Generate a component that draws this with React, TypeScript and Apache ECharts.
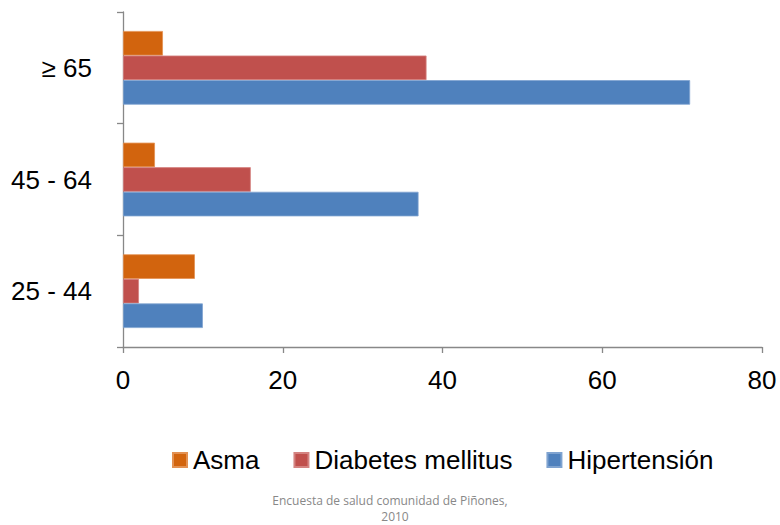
import React, { useEffect, useRef } from "react";
import * as echarts from "echarts";

const categories = ["25 - 44", "45 - 64", "≥ 65"];
const asma = [9, 4, 5];
const diabetes = [2, 16, 38];
const hipertension = [10, 37, 71];
const xTicks = [0, 20, 40, 60, 80];

export default function App() {
  const ref = useRef<HTMLDivElement>(null);
  useEffect(() => {
    const chart = echarts.init(ref.current!, null, { renderer: "svg" });
    const font = "'Liberation Sans', Arial, sans-serif";
    chart.setOption({
      animation: false,
      grid: { left: 123, right: 18, top: 12, bottom: 178, containLabel: false },
      xAxis: {
        type: "value",
        min: xTicks[0],
        max: xTicks[xTicks.length - 1],
        interval: 20,
        splitLine: { show: false },
        axisLine: { show: true, lineStyle: { color: "#888888", width: 1.3 } },
        axisTick: { show: true, length: 6, lineStyle: { color: "#888888", width: 1.3 } },
        axisLabel: { color: "#000", fontSize: 26, fontFamily: font, margin: 20 },
      },
      yAxis: {
        type: "category",
        data: categories,
        axisLine: { show: true, lineStyle: { color: "#888888", width: 1.3 } },
        axisTick: { show: true, length: 6, alignWithLabel: false, lineStyle: { color: "#888888", width: 1.3 } },
        axisLabel: { color: "#000", fontSize: 26, fontFamily: font, margin: 31 },
      },
      legend: {
        data: ["Asma", "Diabetes mellitus", "Hipertensión"],
        left: 167,
        top: 442,
        itemWidth: 14,
        itemHeight: 14,
        itemGap: 34,
        icon: "rect",
        textStyle: { color: "#000", fontSize: 26, fontFamily: font, padding: [0, 0, 0, 1] },
      },
      graphic: [
        {
          type: "text",
          x: 390,
          y: 500,
          style: {
            text: "Encuesta de salud comunidad de Piñones,",
            fill: "#888888",
            font: "12px 'Open Sans', sans-serif",
            align: "center",
            verticalAlign: "middle",
          },
        },
        {
          type: "text",
          x: 395,
          y: 516,
          style: {
            text: "2010",
            fill: "#888888",
            font: "12px 'Open Sans', sans-serif",
            align: "center",
            verticalAlign: "middle",
          },
        },
      ],
      series: [
        {
          name: "Asma",
          type: "bar",
          data: asma,
          barGap: "0%",
          barCategoryGap: "34%",
          itemStyle: { color: "#D2640E", borderColor: "#E39152", borderWidth: 0.8 },
        },
        {
          name: "Diabetes mellitus",
          type: "bar",
          data: diabetes,
          itemStyle: { color: "#C0504D", borderColor: "#D48381", borderWidth: 0.8 },
        },
        {
          name: "Hipertensión",
          type: "bar",
          data: hipertension,
          itemStyle: { color: "#4F81BD", borderColor: "#7FA3D0", borderWidth: 0.8 },
        },
      ],
    });
    return () => chart.dispose();
  }, []);
  return (
    <div
      ref={ref}
      style={{ position: "fixed", left: 0, top: 0, width: 780, height: 525, background: "#fff" }}
    />
  );
}
